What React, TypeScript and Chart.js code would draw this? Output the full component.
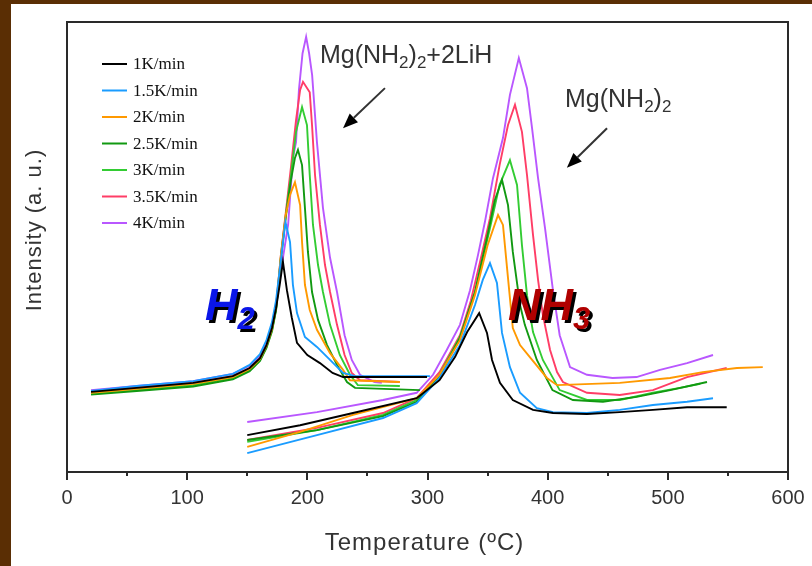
import React, { useEffect, useRef } from 'react';
import { Chart, registerables } from 'chart.js';

Chart.register(...registerables);

// ---- data: [temperature °C, intensity (a.u., 0-100)] ----
const rateLabels = ['1K/min', '1.5K/min', '2K/min', '2.5K/min', '3K/min', '3.5K/min', '4K/min'];
const xTickValues = [0, 100, 200, 300, 400, 500, 600];

const h2_1K = [[20,17.8],[58,18.7],[105,19.8],[138,21.3],[152,23.1],[160.6,25.3],[166,28.2],[170.6,32],[174,36.4],[177,41.6],[179.7,46.7],[183,40.4],[187,34.4],[191.4,28.7],[200,26],[210.5,24.2],[221,22],[229.7,21.1],[260,21.1],[299.6,21.1]];
const nh3_1K = [[150,8.2],[194,10.4],[238,13.1],[291,16.4],[310,20.4],[323,25.6],[333,31.1],[343,35.3],[349.5,30.9],[353.7,24.9],[360.3,19.8],[371,16],[387.8,13.8],[404.4,13.1],[432.7,12.9],[460,13.3],[487.6,13.8],[516,14.4],[549,14.4]];

const h2_15K = [[20,18],[58,19.1],[105,20.2],[138,21.8],[152,23.8],[160.6,26.2],[166,29.3],[170.6,33.3],[174,38.2],[177,44.9],[179.7,50.9],[181.8,55.6],[185.6,51.1],[188,41.6],[191.4,35.3],[198,30],[208,27.8],[218.9,24.9],[229.7,22],[239.7,21.3],[302,21.3]];
const nh3_15K = [[150,4.2],[208,8.2],[263,12],[291,15.3],[310,20.9],[327,28.2],[339.5,37.1],[346,42.7],[352,46.4],[357.8,42],[362,30.9],[368.6,23.3],[377,17.6],[391,14.2],[404.4,13.3],[432.7,13.1],[460,13.8],[487.6,14.9],[516,15.6],[537.6,16.4]];

const h2_2K = [[20,17.6],[58,18.5],[105,19.6],[138,21.1],[152,22.9],[160.6,25.1],[166,28],[170.6,31.8],[174,36.7],[178,48.2],[182,57.1],[185.6,61.6],[189.7,64.4],[194,59.3],[195.6,51.1],[198,41.6],[202,36],[208,31.6],[218.9,26.4],[229.7,22.7],[235.5,20.4],[277,20]];
const nh3_2K = [[150,5.6],[194,8.9],[238,12.7],[291,16.4],[310,21.6],[327,29.3],[339.5,39.3],[350,50.4],[358.7,57.1],[362.8,54.9],[367,43.1],[371,32],[377,28.2],[385,25.6],[399.4,20.9],[407.8,19.3],[460,19.8],[501.8,20.9],[529,22.2],[557.5,23.1],[579,23.3]];

const h2_25K = [[20,17.2],[58,18],[105,19],[138,20.6],[152,22.4],[160.6,24.7],[166,27.6],[170.6,31.3],[174,36],[178,47.5],[182,56.5],[186.4,64.9],[189.7,69.8],[192.2,71.6],[195.6,68.2],[198,58.7],[200.5,48.9],[203.9,40],[208.9,33.8],[216.4,28.2],[224.7,23.8],[233,20],[239.7,18.7],[293.7,18.2]];
const nh3_25K = [[150,7.1],[208,9.3],[263,12.4],[291,15.6],[310,21.3],[327,29.8],[339.5,40],[350,52.7],[356,60.4],[362,64.9],[367,59.3],[371,48.9],[377,37.1],[381,32.7],[391,24.9],[404,18.2],[421,16],[446,15.6],[474,16.7],[502,18.2],[532.6,20]];

const h2_3K = [[20,17.4],[58,18.2],[105,19.3],[138,20.9],[152,22.7],[160.6,24.9],[166,27.8],[170.6,31.6],[174,36.2],[178,47.8],[182,56.9],[186.4,66],[190.6,75.6],[195.6,81.1],[199.7,77.1],[202,66],[204.7,54.9],[208.9,46],[213,40],[218.9,32.7],[227,26],[235.5,21.6],[242,19.3],[277,19.1]];
const nh3_3K = [[150,6.7],[208,9.3],[263,12.7],[291,16],[310,21.6],[327,30],[339.5,39.8],[352,54.2],[360,63.8],[368.6,69.3],[374.5,63.8],[378.6,50.4],[382.8,39.3],[387.8,31.1],[396,24.9],[410,18.2],[432.7,16],[460,16],[487.6,17.6],[510,18.7],[527,19.6]];

const h2_35K = [[20,17.8],[58,18.7],[105,19.8],[138,21.3],[152,23.1],[160.6,25.3],[166,28.2],[170.6,32],[174,36.7],[178,48.2],[182,57.5],[186.4,67.8],[190.6,78.2],[194,84.9],[196.4,86.7],[202,84.4],[203.9,77.1],[206.4,66],[210.5,54.9],[214.7,46],[218.9,40],[224.7,32.7],[231,26],[237,22],[243.8,20.4],[277,20]];
const nh3_35K = [[150,7.1],[208,9.8],[263,13.1],[291,16.4],[310,22.2],[327,30.4],[336,38],[344,47],[352,56.4],[360,68.2],[367,77.1],[372.8,81.6],[378.6,75.6],[382.8,66],[387.8,52.7],[392,42.7],[396,34.9],[402,27.1],[407.8,22.2],[412.7,20],[432.7,17.6],[460,17.1],[487.6,18.2],[516,21.1],[549,23.1]];

const h2_4K = [[20,18.2],[58,19.1],[105,20.2],[138,21.8],[152,23.6],[160.6,25.8],[166,28.7],[170.6,32.4],[174,37.1],[179.7,47.6],[184,54.9],[188,69.8],[190.6,73.3],[193,84.9],[196,93],[199,96.7],[201.5,93],[204,88.2],[208,73.3],[213,58.7],[218.9,47.6],[224.7,40],[231,30.4],[237,24.9],[243.8,21.6],[256,20],[262,19.8]];
const nh3_4K = [[150,11.1],[208,13.3],[263,16],[291,17.6],[304.6,21.6],[316,27.1],[327,32.7],[335.4,40.4],[342,48.2],[347.8,55.6],[354.5,65.3],[362.8,74.2],[368.6,83.8],[376,92],[382.8,85.3],[387,76.4],[392,65.3],[397.8,54.2],[404.4,40.4],[410,30.4],[418.6,23.3],[432.7,21.6],[454,20.9],[474,21.1],[493.5,22.7],[516,24.2],[537.6,26]];

const h2Series = [h2_1K, h2_15K, h2_2K, h2_25K, h2_3K, h2_35K, h2_4K];
const nh3Series = [nh3_1K, nh3_15K, nh3_2K, nh3_25K, nh3_3K, nh3_35K, nh3_4K];

// ---- styles ----
const lineColors = ['#000000', '#1a9cff', '#ff9900', '#119911', '#33cc33', '#ff3d66', '#b957ff'];
const SANS = '"Liberation Sans", Arial, sans-serif';
const SERIF = '"Liberation Serif", "Times New Roman", serif';

function drawArrow(ctx: CanvasRenderingContext2D, x1: number, y1: number, x2: number, y2: number) {
  const ang = Math.atan2(y2 - y1, x2 - x1);
  const hl = 15, hw = 6;
  const bx = x2 - Math.cos(ang) * hl, by = y2 - Math.sin(ang) * hl;
  ctx.strokeStyle = '#333';
  ctx.lineWidth = 2;
  ctx.beginPath();
  ctx.moveTo(x1, y1);
  ctx.lineTo(bx, by);
  ctx.stroke();
  ctx.fillStyle = '#000';
  ctx.beginPath();
  ctx.moveTo(x2, y2);
  ctx.lineTo(bx + Math.sin(ang) * hw, by - Math.cos(ang) * hw);
  ctx.lineTo(bx - Math.sin(ang) * hw, by + Math.cos(ang) * hw);
  ctx.closePath();
  ctx.fill();
}

function drawChem(ctx: CanvasRenderingContext2D, parts: [string, boolean][], x: number, y: number, size: number, weight: string) {
  let cx = x;
  for (const [t, sub] of parts) {
    const s = sub ? Math.round(size * 0.68) : size;
    ctx.font = `${weight} ${s}px ${SANS}`;
    ctx.fillText(t, cx, sub ? y + size * 0.2 : y);
    cx += ctx.measureText(t).width;
  }
}

const decorPlugin = {
  id: 'decor',
  afterDraw(chart: any) {
    const { ctx, chartArea: a, scales } = chart;
    const xs = scales.x, ys = scales.y;
    const px = (v: number) => xs.getPixelForValue(v);
    const py = (v: number) => ys.getPixelForValue(v);
    ctx.save();

    // frame
    ctx.strokeStyle = '#2a2a2a';
    ctx.lineWidth = 2;
    ctx.strokeRect(a.left, a.top, a.right - a.left, a.bottom - a.top);
    // ticks (major every 100, minor every 50)
    for (let v = xs.min; v <= xs.max; v += 50) {
      const p = Math.round(px(v));
      const len = v % 100 === 0 ? 8 : 4;
      ctx.beginPath();
      ctx.moveTo(p, a.bottom);
      ctx.lineTo(p, a.bottom + len);
      ctx.stroke();
    }

    // axis titles
    ctx.fillStyle = '#333';
    ctx.textAlign = 'center';
    ctx.textBaseline = 'middle';
    (ctx as any).letterSpacing = '1px';
    ctx.font = `24px ${SANS}`;
    ctx.fillText('Temperature (ºC)', (a.left + a.right) / 2 - 3, 539);
    ctx.save();
    ctx.translate(24, 226);
    ctx.rotate(-Math.PI / 2);
    ctx.font = `22px ${SANS}`;
    ctx.fillText('Intensity (a. u.)', 0, 0);
    ctx.restore();
    (ctx as any).letterSpacing = '0px';

    // legend
    ctx.textAlign = 'left';
    ctx.textBaseline = 'middle';
    ctx.font = `17px ${SERIF}`;
    chart.data.datasets.forEach((ds: any, i: number) => {
      const yy = a.top + 42 + i * 26.5;
      ctx.strokeStyle = ds.borderColor;
      ctx.lineWidth = 2;
      ctx.beginPath();
      ctx.moveTo(a.left + 35, yy);
      ctx.lineTo(a.left + 60, yy);
      ctx.stroke();
      ctx.fillStyle = '#111';
      ctx.fillText(ds.label, a.left + 66, yy + 1);
    });

    // compound annotations
    ctx.textBaseline = 'alphabetic';
    ctx.fillStyle = '#333';
    drawChem(ctx, [['Mg(NH', false], ['2', true], [')', false], ['2', true], ['+2LiH', false]], px(210.5), py(90.9), 25, 'normal');
    drawChem(ctx, [['Mg(NH', false], ['2', true], [')', false], ['2', true]], px(414.4), py(81.1), 25, 'normal');
    drawArrow(ctx, px(264.6), py(85.3), px(229.7), py(76.4));
    drawArrow(ctx, px(449.4), py(76.4), px(416), py(67.6));

    // gas labels with shadow
    const gas = (parts: [string, boolean][], x: number, y: number, color: string) => {
      ctx.fillStyle = '#000';
      drawChem(ctx, parts, x + 3, y + 3, 45, 'italic bold');
      ctx.fillStyle = color;
      drawChem(ctx, parts, x, y, 45, 'italic bold');
    };
    gas([['H', false], ['2', true]], px(114.8), py(33.8), '#0a16e8');
    gas([['NH', false], ['3', true]], px(367), py(33.8), '#b00000');

    ctx.restore();
  },
};

export default function App() {
  const canvasRef = useRef<HTMLCanvasElement | null>(null);

  useEffect(() => {
    const canvas = canvasRef.current;
    if (!canvas) return;
    const datasets = rateLabels.map((label, i) => {
      const h2 = h2Series[i];
      const nh3 = nh3Series[i];
      const data = [
        ...h2.map(([x, y]) => ({ x, y })),
        { x: h2[h2.length - 1][0], y: null },
        ...nh3.map(([x, y]) => ({ x, y })),
      ];
      return {
        label,
        data,
        borderColor: lineColors[i],
        backgroundColor: lineColors[i],
        borderWidth: 1.9,
        pointRadius: 0,
        tension: 0,
        fill: false,
        spanGaps: false,
      };
    });

    const chart = new Chart(canvas, {
      type: 'line',
      data: { datasets } as any,
      options: {
        animation: false,
        responsive: false,
        events: [],
        layout: { padding: { left: 56, right: 24, top: 18, bottom: 0 } },
        plugins: { legend: { display: false }, tooltip: { enabled: false } },
        scales: {
          x: {
            type: 'linear',
            min: 0,
            max: 600,
            afterFit: (scale: any) => { scale.height = 94; scale.paddingLeft = 0; scale.paddingRight = 0; },
            afterBuildTicks: (scale: any) => { scale.ticks = xTickValues.map((v) => ({ value: v })); },
            grid: { display: false, drawTicks: false },
            border: { display: false },
            ticks: {
              padding: 14,
              color: '#333',
              font: { size: 20, family: SANS },
            },
          },
          y: {
            type: 'linear',
            min: 0,
            max: 100,
            display: false,
          },
        },
      } as any,
      plugins: [decorPlugin],
    });
    return () => chart.destroy();
  }, []);

  return (
    <div style={{ position: 'absolute', left: 0, top: 0, width: 812, height: 566, background: '#5a2e04' }}>
      <div style={{ position: 'absolute', left: 11, top: 4, width: 801, height: 562, background: '#fff' }}>
        <canvas ref={canvasRef} width={801} height={562} style={{ display: 'block' }} />
      </div>
    </div>
  );
}
